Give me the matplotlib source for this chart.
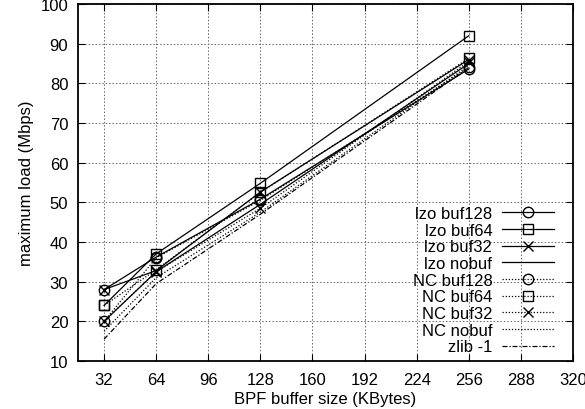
import matplotlib
matplotlib.use("Agg")
import matplotlib.pyplot as plt

plt.rcParams['font.family'] = ['Liberation Sans', 'DejaVu Sans']

buf_sizes = [32, 64, 128, 256]

lzo_buf128 = [28, 36.2, 50.8, 83.6]
lzo_buf64 = [24, 37, 54.8, 92]
lzo_buf32 = [28, 32.8, 52.6, 86]
lzo_nobuf = [20, 32.5, 49.5, 85]
nc_buf128 = [20, 36, 50.5, 84]
nc_buf64 = [24, 33, 52.5, 86.3]
nc_buf32 = [20, 32.5, 48.5, 85.5]
nc_nobuf = [17.5, 31, 47.5, 84.5]
zlib_1 = [15.5, 29.5, 47, 84]

series = [
    ("lzo buf128", lzo_buf128, "-", "o"),
    ("lzo buf64", lzo_buf64, "-", "s"),
    ("lzo buf32", lzo_buf32, "-", "x"),
    ("lzo nobuf", lzo_nobuf, "-", None),
    ("NC buf128", nc_buf128, (0, (1, 1.5)), "o"),
    ("NC buf64", nc_buf64, (0, (1, 1.5)), "s"),
    ("NC buf32", nc_buf32, (0, (1, 1.5)), "x"),
    ("NC nobuf", nc_nobuf, (0, (1, 1.5)), None),
    ("zlib -1", zlib_1, (0, (4, 1.5, 1, 1.5)), None),
]

x_ticks = list(range(32, 321, 32))
y_ticks = list(range(10, 101, 10))

fig = plt.figure(figsize=(5.85, 4.1), dpi=100)
ax = fig.add_axes([78 / 585, 1 - 362 / 410, (573 - 78) / 585, (362 - 5) / 410])

for label, vals, ls, mk in series:
    ax.plot(buf_sizes, vals, linestyle=ls, color="black", linewidth=0.9,
            marker=mk, markersize=7.5, markerfacecolor="none",
            markeredgecolor="black", markeredgewidth=1.0, label=label)

ax.set_xlim(16, 320)
ax.set_ylim(10, 100)
ax.set_xticks(x_ticks)
ax.set_yticks(y_ticks)
ax.grid(True, linestyle=(0, (1.5, 2)), color="#666666", linewidth=0.7)
ax.tick_params(direction="in", length=5, width=0.8, top=True, right=True,
               labelsize=12, colors="black")
ax.tick_params(axis="x", pad=8)
ax.tick_params(axis="y", pad=7)
for s in ax.spines.values():
    s.set_linewidth(1.3)

ax.set_xlabel("BPF buffer size (KBytes)", fontsize=12, labelpad=3)
ax.set_ylabel("maximum load (Mbps)", fontsize=12, labelpad=5)

leg = ax.legend(loc="lower right", bbox_to_anchor=(0.975, 0.0), frameon=False,
                markerfirst=False, fontsize=12, handlelength=3.1,
                handletextpad=0.6, labelspacing=0.1, borderaxespad=0.0)
for vp in leg._legend_handle_box.get_children():
    vp.align = "right"

fig.savefig("out.png", dpi=100)
